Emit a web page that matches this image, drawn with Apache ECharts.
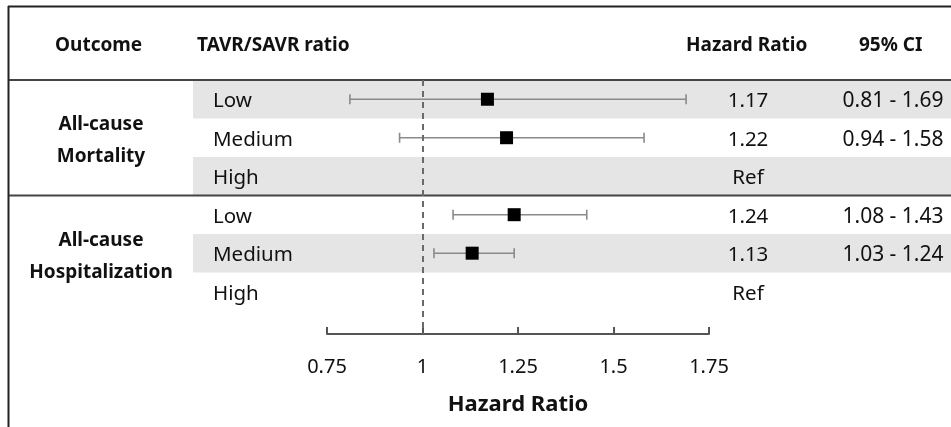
<!DOCTYPE html>
<html>
<head>
<meta charset="utf-8">
<script src="https://cdn.jsdelivr.net/npm/echarts@6/dist/echarts.min.js"></script>
<style>
html,body{margin:0;padding:0;background:#fff;}
#main{width:951px;height:427px;}
</style>
</head>
<body>
<div id="main"></div>
<script>
// ---- data ----
const categories = ['Low', 'Medium', 'High', 'Low', 'Medium', 'High'];
const outcomes = ['All-cause\nMortality', 'All-cause\nHospitalization'];
const outcomeRows = [1, 4];
const hazardRatio = [1.17, 1.22, null, 1.24, 1.13, null];
const ciLower = [0.81, 0.94, null, 1.08, 1.03, null];
const ciUpper = [1.69, 1.58, null, 1.43, 1.24, null];
const hrText = ['1.17', '1.22', 'Ref', '1.24', '1.13', 'Ref'];
const ciText = ['0.81 - 1.69', '0.94 - 1.58', '', '1.08 - 1.43', '1.03 - 1.24', ''];
const shadedRows = [0, 2, 4];
const groupBreaks = [-0.5, 2.5];
const xTicks = [0.75, 1, 1.25, 1.5, 1.75];
const refValue = 1;

const FONT = '"Noto Sans", sans-serif';
const chart = echarts.init(document.getElementById('main'));

const idx = categories.map((_, i) => i);

const option = {
  animation: false,
  grid: { left: 327, right: 242, top: 80, height: 254 },
  xAxis: {
    type: 'value',
    min: xTicks[0], max: xTicks[xTicks.length - 1], interval: 0.25,
    axisLine: { show: true, onZero: false, lineStyle: { color: '#555', width: 2 } },
    axisTick: { show: true, inside: true, length: 7, lineStyle: { color: '#555', width: 2 } },
    splitLine: { show: false },
    axisLabel: { fontFamily: FONT, fontSize: 20, color: '#111', margin: 23,
      formatter: v => String(+v.toFixed(2)) },
    name: 'Hazard Ratio', nameLocation: 'middle', nameGap: 60,
    nameTextStyle: { fontFamily: FONT, fontSize: 22, fontWeight: 'bold', color: '#111' }
  },
  yAxis: { type: 'value', inverse: true, min: -0.5, max: 6.1, show: false },
  graphic: [
    { type: 'line', shape: { x1: 8.5, y1: 6, x2: 8.5, y2: 427 }, style: { stroke: '#222', lineWidth: 2 } },
    { type: 'line', shape: { x1: 8, y1: 6.5, x2: 951, y2: 6.5 }, style: { stroke: '#222', lineWidth: 2 } },
    { type: 'text', left: 55, top: 36, style: { text: 'Outcome', font: 'bold 19px ' + FONT, fill: '#111' } },
    { type: 'text', left: 197, top: 36, style: { text: 'TAVR/SAVR ratio', font: 'bold 19px ' + FONT, fill: '#111' } },
    { type: 'text', left: 686, top: 36, style: { text: 'Hazard Ratio', font: 'bold 19px ' + FONT, fill: '#111' } },
    { type: 'text', left: 859, top: 36, style: { text: '95% CI', font: 'bold 19px ' + FONT, fill: '#111' } }
  ],
  series: [
    { // shaded bands
      type: 'custom', z: 0, clip: false, silent: true,
      data: shadedRows.map(r => [r]),
      renderItem: (params, api) => {
        const r = api.value(0);
        const p0 = api.coord([refValue, r - 0.5]);
        const p1 = api.coord([refValue, r + 0.5]);
        return { type: 'rect', shape: { x: 193, y: p0[1], width: api.getWidth() - 193, height: p1[1] - p0[1] },
          style: { fill: '#e5e5e5' } };
      }
    },
    { // group separator lines
      type: 'custom', z: 1, clip: false, silent: true,
      data: groupBreaks.map(b => [b]),
      renderItem: (params, api) => {
        const y = api.coord([refValue, api.value(0)])[1];
        return { type: 'line', shape: { x1: 9, y1: y, x2: api.getWidth(), y2: y },
          style: { stroke: '#444', lineWidth: 2 } };
      }
    },
    { // reference line
      type: 'line', data: [], z: 2,
      markLine: { silent: true, symbol: 'none', label: { show: false },
        lineStyle: { type: [6, 5], color: '#6a6a6a', width: 2 },
        data: [{ xAxis: refValue }] }
    },
    { // CI whiskers
      type: 'custom', z: 3, clip: false, silent: true,
      data: idx.filter(i => ciLower[i] != null).map(i => [ciLower[i], ciUpper[i], i]),
      renderItem: (params, api) => {
        const a = api.coord([api.value(0), api.value(2)]);
        const b = api.coord([api.value(1), api.value(2)]);
        const st = { stroke: '#8a8a8a', lineWidth: 1.6 };
        return { type: 'group', children: [
          { type: 'line', shape: { x1: a[0], y1: a[1], x2: b[0], y2: b[1] }, style: st },
          { type: 'line', shape: { x1: a[0], y1: a[1] - 5, x2: a[0], y2: a[1] + 5 }, style: st },
          { type: 'line', shape: { x1: b[0], y1: b[1] - 5, x2: b[0], y2: b[1] + 5 }, style: st }
        ] };
      }
    },
    { // point estimates
      type: 'scatter', z: 4, symbol: 'rect', symbolSize: 13,
      itemStyle: { color: '#000', opacity: 1 },
      data: idx.filter(i => hazardRatio[i] != null).map(i => [hazardRatio[i], i])
    },
    { // text columns
      type: 'custom', z: 5, clip: false, silent: true,
      data: idx.map(i => [i]),
      renderItem: (params, api) => {
        const i = api.value(0);
        const y = api.coord([refValue, i])[1] + 2;
        const font = '20.5px ' + FONT;
        return { type: 'group', children: [
          { type: 'text', x: 213, y: y, style: { text: categories[i], font, fill: '#111', verticalAlign: 'middle', align: 'left' } },
          { type: 'text', x: 748, y: y, style: { text: hrText[i], font, fill: '#111', verticalAlign: 'middle', align: 'center' } },
          { type: 'text', x: 893, y: y, style: { text: ciText[i], font: '21px ' + FONT, fill: '#111', verticalAlign: 'middle', align: 'center' } }
        ] };
      }
    },
    { // outcome labels
      type: 'custom', z: 5, clip: false, silent: true,
      data: outcomeRows.map((r, k) => [r, k]),
      renderItem: (params, api) => {
        const y = api.coord([refValue, api.value(0)])[1] + 3;
        return { type: 'text', x: 101, y: y, style: { text: outcomes[api.value(1)],
          font: 'bold 19px ' + FONT, lineHeight: 32, fill: '#111', align: 'center', verticalAlign: 'middle' } };
      }
    }
  ]
};
chart.setOption(option);
</script>
</body>
</html>
